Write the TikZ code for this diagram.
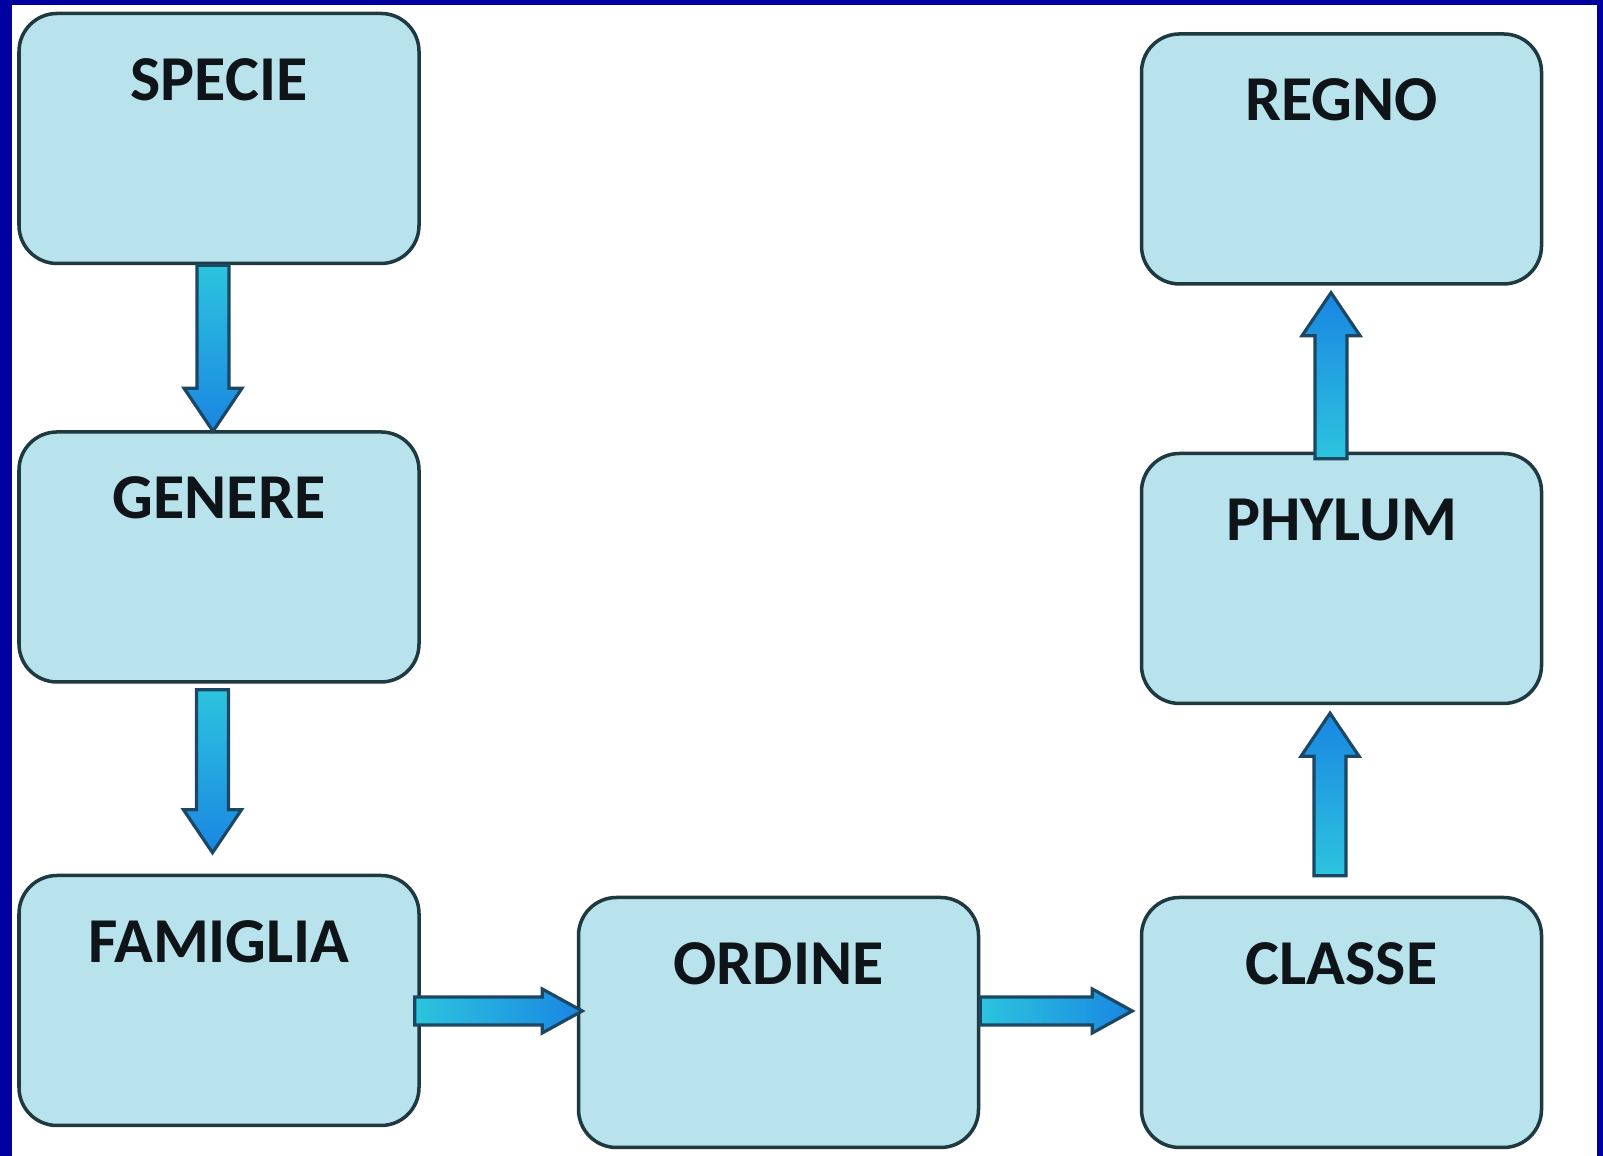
\documentclass[tikz,border=0pt]{standalone}
\usepackage{fontspec}
\setsansfont{Carlito}
\usetikzlibrary{calc}
\definecolor{cframe}{HTML}{0000A0}
\definecolor{cice}{HTML}{B8E2EC}
\definecolor{cedge}{HTML}{1E3A40}
\definecolor{ccyan}{HTML}{2CC4DE}
\definecolor{cblue}{HTML}{1A86E2}
\definecolor{cnavy}{HTML}{1B4763}
\definecolor{cink}{HTML}{0E1418}
\tikzset{
  every picture/.style={font=\sffamily\bfseries, line width=1pt},
  box/.style={draw=cedge, fill=cice, rounded corners=0.38cm, minimum width=4cm, inner ysep=0pt,
    text height=0.87cm, text depth=1.63cm, text=cink, font=\sffamily\bfseries\fontsize{18.2}{20}\selectfont},
  flow/.style n args={4}{draw=cnavy, line width=0.9pt, top color=cblue, bottom color=ccyan, shading angle=#1,
    to path={($(\tikztostart)!#2!90:(\tikztotarget)$)
      -- ($(\tikztotarget)!#4!(\tikztostart)!#2!-90:(\tikztostart)$)
      -- ($(\tikztotarget)!#4!(\tikztostart)!#3!-90:(\tikztostart)$)
      -- (\tikztotarget)
      -- ($(\tikztotarget)!#4!(\tikztostart)!#3!90:(\tikztostart)$)
      -- ($(\tikztotarget)!#4!(\tikztostart)!#2!90:(\tikztostart)$)
      -- ($(\tikztostart)!#2!-90:(\tikztotarget)$) -- cycle}},
  vflow/.style={flow={#1}{0.16cm}{0.29cm}{0.43cm}},
  hflow/.style={flow={-90}{0.14cm}{0.22cm}{0.40cm}},
}
\begin{document}
\begin{tikzpicture}
  \useasboundingbox (0,0) rectangle (16.03,11.56);
  % blue frame
  \fill[cframe] (0,0) rectangle (16.03,11.56);
  \fill[white] (0.12,0) rectangle (15.97,11.51);
  \foreach \n/\t/\x/\y in {specie/SPECIE/2.19/10.175, genere/GENERE/2.19/5.99, famiglia/FAMIGLIA/2.19/1.555,
    ordine/ORDINE/7.785/1.335, classe/CLASSE/13.415/1.335, phylum/PHYLUM/13.415/5.775, regno/REGNO/13.415/9.97}
    \node[box] (\n) at (\x,\y) {\t};
  \draw[vflow=180] ($(specie.south)+(-0.06,0)$) to ($(genere.north)+(-0.06,-0.01)$);
  \draw[vflow=180] ($(genere.south)+(-0.065,-0.06)$) to ($(famiglia.north)+(-0.065,0.21)$);
  \draw[hflow] ($(famiglia.east)+(-0.06,-0.105)$) to ($(ordine.west)+(0.055,0.115)$);
  \draw[hflow] ($(ordine.east)+(0,0.115)$) to ($(classe.west)+(-0.075,0.115)$);
  \draw[vflow=0] ($(classe.north)+(-0.115,0.20)$) to ($(phylum.south)+(-0.115,-0.08)$);
  \draw[vflow=0] ($(phylum.north)+(-0.105,-0.07)$) to ($(regno.south)+(-0.105,-0.07)$);
\end{tikzpicture}
\end{document}
